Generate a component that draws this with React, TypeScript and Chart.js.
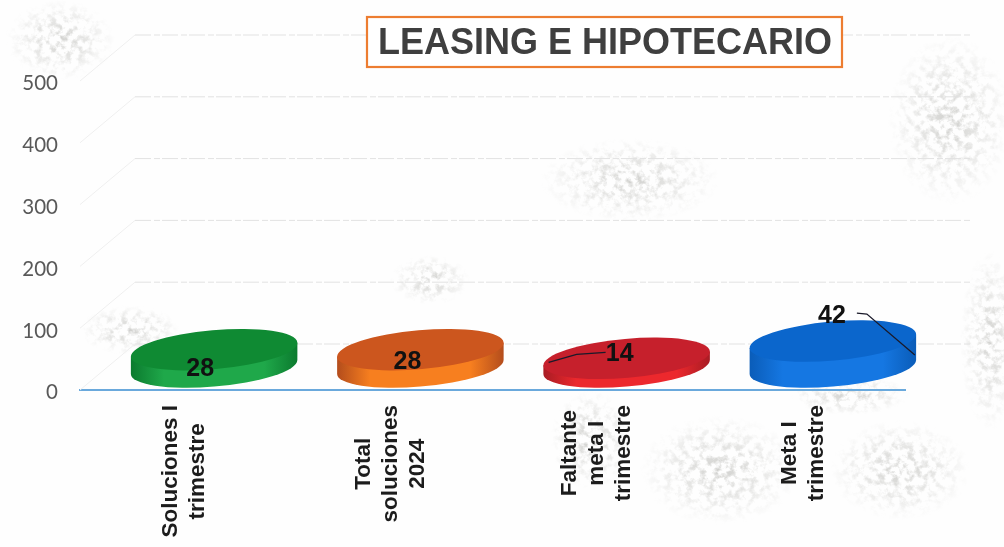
import React, { useEffect, useRef } from "react";
import { Chart, registerables } from "chart.js";

Chart.register(...registerables);

const titleText = "LEASING E HIPOTECARIO";
const categories: string[][] = [
  ["Soluciones I", "trimestre"],
  ["Total", "soluciones", "2024"],
  ["Faltante", "meta I", "trimestre"],
  ["Meta I", "trimestre"],
];
const values = [28, 28, 14, 42];
const topColors = ["#0f8a33", "#cc561e", "#c6202c", "#0b66cc"];
const sideDark = ["#0b7a2e", "#b34c1c", "#a81c24", "#0a5cb8"];
const sideLight = ["#1fa84a", "#f77f1f", "#ec282d", "#1577e2"];
const yTicks = [0, 100, 200, 300, 400, 500];

const DEPTH_X = 31;
const DEPTH_Y = 23;
const WALL_X = 55;
const WALL_Y = 46;
const TILT = (-5 * Math.PI) / 180;
const RY = 19.5;

// label anchor relative to the disc's top face, and optional leader line
const labelLayout = [
  { dx: -14, dy: 19, leader: null as number[][] | null },
  { dx: -13, dy: 12, leader: null },
  { dx: -7, dy: -4, leader: [[-21, -6], [-50, -4], [-78, 4]] },
  { dx: -1, dy: -25, leader: [[24, -28], [34, -27], [82, 14]] },
];

const discPlugin = {
  id: "discs",
  beforeDatasetsDraw(chart: any) {
    const { ctx } = chart;
    const y = chart.scales.y;
    const area = chart.chartArea;
    ctx.save();
    ctx.lineWidth = 1;
    yTicks.forEach((t) => {
      const py = y.getPixelForValue(t);
      ctx.strokeStyle = "#efefef";
      ctx.beginPath();
      ctx.moveTo(area.left, py);
      ctx.lineTo(area.left + WALL_X, py - WALL_Y);
      ctx.stroke();
      ctx.strokeStyle = "#e2e2e2";
      ctx.setLineDash([16, 3, 6, 2]);
      ctx.beginPath();
      ctx.moveTo(area.left + WALL_X, py - WALL_Y);
      ctx.lineTo(area.right + 65, py - WALL_Y);
      ctx.stroke();
      ctx.setLineDash([]);
    });
    ctx.restore();
  },
  afterDatasetsDraw(chart: any) {
    const { ctx } = chart;
    const meta = chart.getDatasetMeta(0);
    meta.data.forEach((el: any, i: number) => {
      const p = el.getProps(["x", "y", "base", "width"], true);
      const cx = p.x + DEPTH_X;
      const baseY = p.base - DEPTH_Y;
      const topY = p.y - DEPTH_Y;
      const rx = p.width / 2;
      const t0 = Math.atan2(-RY * Math.sin(TILT), rx * Math.cos(TILT));
      const ex = rx * Math.cos(t0) * Math.cos(TILT) - RY * Math.sin(t0) * Math.sin(TILT);
      const ey = rx * Math.cos(t0) * Math.sin(TILT) + RY * Math.sin(t0) * Math.cos(TILT);

      ctx.save();
      const g = ctx.createLinearGradient(cx - rx, 0, cx + rx, 0);
      g.addColorStop(0, sideDark[i]);
      g.addColorStop(0.2, sideLight[i]);
      g.addColorStop(0.8, sideLight[i]);
      g.addColorStop(1, sideDark[i]);
      ctx.fillStyle = g;
      ctx.beginPath();
      ctx.ellipse(cx, baseY, rx, RY, TILT, t0, t0 + Math.PI);
      ctx.lineTo(cx - ex, topY - ey);
      ctx.lineTo(cx + ex, topY + ey);
      ctx.closePath();
      ctx.fill();

      ctx.fillStyle = topColors[i];
      ctx.beginPath();
      ctx.ellipse(cx, topY, rx, RY, TILT, 0, Math.PI * 2);
      ctx.fill();

      const lay = labelLayout[i];
      const lx = cx + lay.dx;
      const ly = topY + lay.dy;
      if (lay.leader) {
        ctx.strokeStyle = "#1a1a2a";
        ctx.lineWidth = 1.3;
        ctx.beginPath();
        lay.leader.forEach(([a, b], k) => {
          if (k === 0) ctx.moveTo(cx + a, topY + b);
          else ctx.lineTo(cx + a, topY + b);
        });
        ctx.stroke();
      }
      ctx.fillStyle = "#111111";
      ctx.font = 'bold 25px "Liberation Sans"';
      ctx.textAlign = "center";
      ctx.textBaseline = "middle";
      ctx.fillText(String(values[i]), lx, ly);
      ctx.restore();
    });
  },
  afterDraw(chart: any) {
    const { ctx } = chart;
    const x = chart.scales.x;
    ctx.save();
    // rotated, centred multi-line category labels
    ctx.font = 'bold 22.5px "Liberation Sans"';
    ctx.fillStyle = "#1c1c1c";
    ctx.textAlign = "center";
    ctx.textBaseline = "middle";
    categories.forEach((lines, i) => {
      const px = x.getPixelForTick(i) + 1;
      const widest = Math.max(...lines.map((l) => ctx.measureText(l).width));
      const midY = 405 + widest / 2;
      lines.forEach((l, k) => {
        ctx.save();
        ctx.translate(px + (k - (lines.length - 1) / 2) * 27, midY);
        ctx.rotate(-Math.PI / 2);
        ctx.fillText(l, 0, 0);
        ctx.restore();
      });
    });
    // boxed title
    ctx.fillStyle = "#ffffff";
    ctx.fillRect(367, 17, 475, 50);
    ctx.strokeStyle = "#ed7d31";
    ctx.lineWidth = 2.2;
    ctx.strokeRect(367, 17, 475, 50);
    ctx.fillStyle = "#3f3f3f";
    ctx.font = 'bold 36px "Liberation Sans"';
    ctx.fillText(titleText, 605, 44);
    ctx.restore();
  },
};

const smudges = [
  [950, 120, 62, 85], [630, 180, 90, 42], [720, 470, 80, 55], [900, 470, 70, 50],
  [60, 40, 55, 40], [990, 340, 30, 90], [590, 440, 40, 50], [430, 280, 40, 25],
  [130, 330, 50, 25], [850, 395, 60, 20],
];

export default function App() {
  const ref = useRef<HTMLCanvasElement | null>(null);
  useEffect(() => {
    const chart = new Chart(ref.current as HTMLCanvasElement, {
      type: "bar",
      data: {
        labels: categories.map((c) => c.join(" ")),
        datasets: [
          {
            data: values,
            backgroundColor: "rgba(0,0,0,0)",
            borderWidth: 0,
            barPercentage: 0.81,
            categoryPercentage: 1,
          },
        ],
      },
      options: {
        animation: false,
        responsive: false,
        layout: { padding: { top: 81, right: 99, left: 0, bottom: 0 } },
        plugins: { legend: { display: false }, title: { display: false }, tooltip: { enabled: false } },
        scales: {
          x: {
            grid: { display: false },
            border: { display: true, color: "#6aa9dc", width: 2 },
            ticks: { display: false },
            afterFit: (s: any) => {
              s.height = 157;
            },
          },
          y: {
            min: 0,
            max: 500,
            grid: { display: false },
            border: { display: false },
            ticks: {
              stepSize: 100,
              color: "#595959",
              padding: 14,
              // an empty first line nudges the label down by half a line
              callback: (v: any) => ["", String(v)],
              font: { family: "Lato", size: 20.5, lineHeight: 0.28 },
            },
            afterFit: (s: any) => {
              s.width = 80;
            },
          },
        },
      },
      plugins: [discPlugin],
    } as any);
    return () => chart.destroy();
  }, []);
  return (
    <div style={{ position: "fixed", left: 0, top: 0, width: 1004, height: 547, background: "#fefefe", overflow: "hidden" }}>
      <svg width={1004} height={547} style={{ position: "absolute", left: 0, top: 0 }}>
        <defs>
          <filter id="grain" x="0" y="0" width="100%" height="100%">
            <feTurbulence type="fractalNoise" baseFrequency="0.14" numOctaves={4} seed={7} />
            <feColorMatrix values="0 0 0 0 0.6  0 0 0 0 0.6  0 0 0 0 0.58  3.6 0 0 0 -1.6" />
          </filter>
          <radialGradient id="fade">
            <stop offset="0" stopColor="#fff" stopOpacity={0.9} />
            <stop offset="1" stopColor="#fff" stopOpacity={0} />
          </radialGradient>
          <mask id="patches">
            {smudges.map(([cx, cy, rx, ry], i) => (
              <ellipse key={i} cx={cx} cy={cy} rx={rx} ry={ry} fill="url(#fade)" />
            ))}
          </mask>
        </defs>
        <rect width={1004} height={547} filter="url(#grain)" mask="url(#patches)" />
      </svg>
      <canvas ref={ref} width={1004} height={547} style={{ position: "absolute", left: 0, top: 0 }} />
    </div>
  );
}
